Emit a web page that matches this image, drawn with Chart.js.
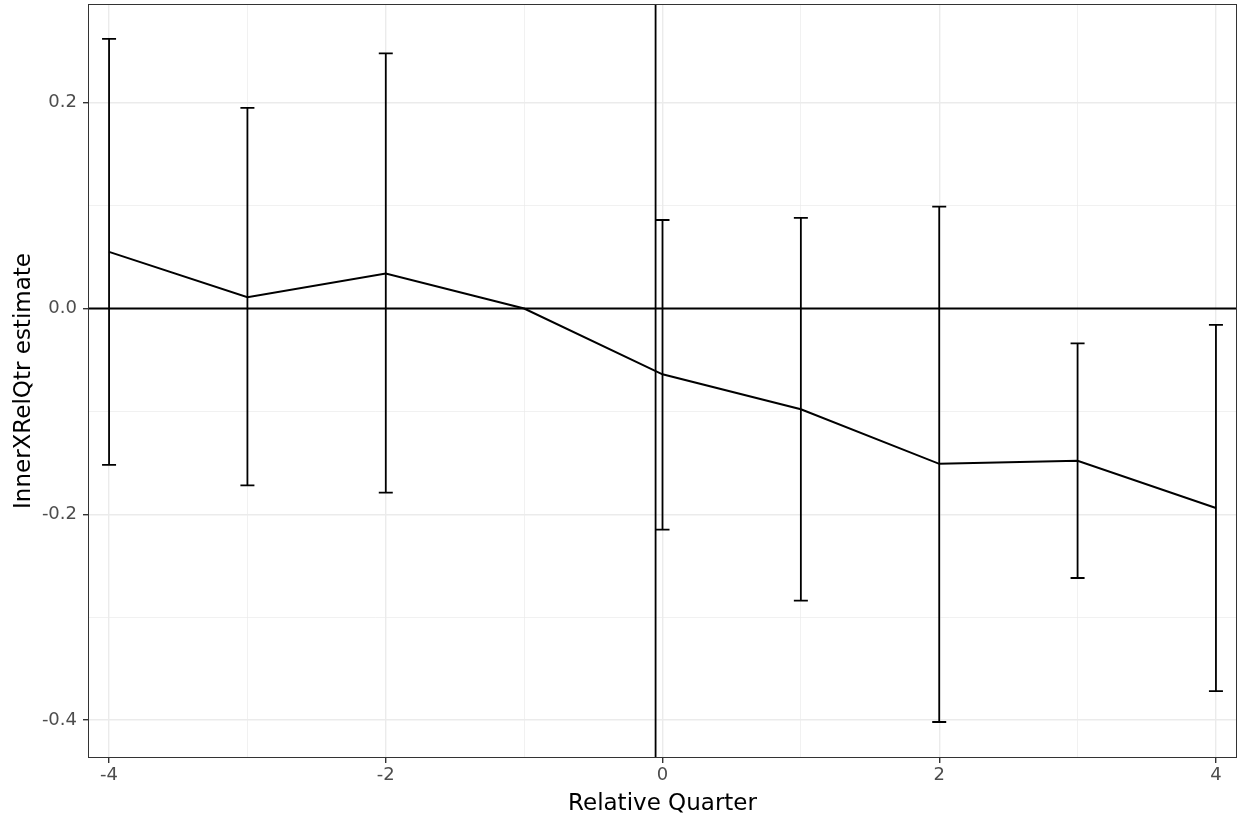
<!DOCTYPE html>
<html>
<head>
<meta charset="utf-8">
<script src="https://cdn.jsdelivr.net/npm/chart.js@4"></script>
<style>
  html, body { margin: 0; padding: 0; background: #fff; }
  #wrap { width: 1238px; height: 818px; }
</style>
</head>
<body>
<div id="wrap"><canvas id="chart"></canvas></div>
<script>
// data
const quarters = [-4, -3, -2, -1, 0, 1, 2, 3, 4];
const estimates = [0.055, 0.011, 0.034, 0, -0.064, -0.098, -0.151, -0.148, -0.194];
const lowerCI = [-0.152, -0.172, -0.179, null, -0.215, -0.284, -0.402, -0.262, -0.372];
const upperCI = [0.262, 0.195, 0.248, null, 0.086, 0.088, 0.099, -0.034, -0.016];
const eventLine = -0.05;
const xTicks = [-4, -3, -2, -1, 0, 1, 2, 3, 4];
const yTicks = [-0.4, -0.3, -0.2, -0.1, 0, 0.1, 0.2];

const isMajorY = v => Math.abs(Math.round(v * 10)) % 2 === 0;
const isMajorX = v => Math.abs(v) % 2 === 0;

// error bars, reference lines and panel border
const extras = {
  id: 'extras',
  beforeDatasetsDraw(chart) {
    const { ctx, chartArea: a, scales: { x, y } } = chart;
    ctx.save();
    ctx.strokeStyle = '#000';
    ctx.lineWidth = 1.8;
    const y0 = Math.round(y.getPixelForValue(0)) + 0.5;
    ctx.beginPath();
    ctx.moveTo(a.left, y0); ctx.lineTo(a.right, y0);
    const xv = x.getPixelForValue(eventLine);
    ctx.moveTo(xv, a.top); ctx.lineTo(xv, a.bottom);
    ctx.stroke();

    quarters.forEach((q, i) => {
      if (lowerCI[i] == null) return;
      const px = x.getPixelForValue(q);
      const pl = y.getPixelForValue(lowerCI[i]);
      const pu = y.getPixelForValue(upperCI[i]);
      ctx.beginPath();
      ctx.moveTo(px, pl); ctx.lineTo(px, pu);
      ctx.moveTo(px - 7, pl); ctx.lineTo(px + 7, pl);
      ctx.moveTo(px - 7, pu); ctx.lineTo(px + 7, pu);
      ctx.stroke();
    });
    ctx.restore();
  },
  afterDraw(chart) {
    const { ctx, chartArea: a } = chart;
    ctx.save();
    ctx.strokeStyle = '#333';
    ctx.lineWidth = 1;
    ctx.strokeRect(Math.round(a.left) - 0.5, Math.round(a.top) - 0.5,
      Math.round(a.right - a.left) + 1, Math.round(a.bottom - a.top) + 1);
    ctx.restore();
  }
};

new Chart(document.getElementById('chart'), {
  type: 'line',
  data: {
    datasets: [{
      data: quarters.map((q, i) => ({ x: q, y: estimates[i] })),
      borderColor: '#000',
      borderWidth: 2,
      pointRadius: 0,
      tension: 0
    }]
  },
  options: {
    responsive: true,
    maintainAspectRatio: false,
    animation: false,
    layout: { padding: { left: 10, right: 2, top: 5, bottom: 0 } },
    plugins: { legend: { display: false }, tooltip: { enabled: false } },
    scales: {
      x: {
        type: 'linear',
        min: -4.145,
        max: 4.145,
        afterBuildTicks: s => { s.ticks = xTicks.map(v => ({ value: v })); },
        afterFit: s => { s.height = 61; s.paddingLeft = 0; s.paddingRight = 0; },
        border: { display: false },
        grid: {
          color: '#ebebeb',
          lineWidth: c => isMajorX(c.tick.value) ? 1.4 : 0.7,
          tickColor: c => isMajorX(c.tick.value) ? '#333' : 'rgba(0,0,0,0)',
          tickLength: 6,
          tickWidth: 1.4
        },
        ticks: {
          color: '#4d4d4d',
          font: { family: 'DejaVu Sans', size: 18 },
          padding: 2,
          maxRotation: 0,
          autoSkip: false,
          callback: v => isMajorX(v) ? String(v) : ''
        },
        title: {
          display: true,
          text: 'Relative Quarter',
          color: '#000',
          font: { family: 'DejaVu Sans', size: 23 },
          padding: { top: 0, bottom: 0 }
        }
      },
      y: {
        min: -0.436,
        max: 0.295,
        afterBuildTicks: s => { s.ticks = yTicks.map(v => ({ value: v })); },
        afterFit: s => { s.width = 79; s.paddingTop = 0; s.paddingBottom = 0; },
        border: { display: false },
        grid: {
          color: '#ebebeb',
          lineWidth: c => isMajorY(c.tick.value) ? 1.4 : 0.7,
          tickColor: c => isMajorY(c.tick.value) ? '#333' : 'rgba(0,0,0,0)',
          tickLength: 6,
          tickWidth: 1.4
        },
        ticks: {
          color: '#4d4d4d',
          font: { family: 'DejaVu Sans', size: 18 },
          padding: 6,
          autoSkip: false,
          callback: v => isMajorY(v) ? v.toFixed(1) : ''
        },
        title: {
          display: true,
          text: 'InnerXRelQtr estimate',
          color: '#000',
          font: { family: 'DejaVu Sans', size: 23 },
          padding: { top: 0, bottom: 4 }
        }
      }
    }
  },
  plugins: [extras]
});
</script>
</body>
</html>
